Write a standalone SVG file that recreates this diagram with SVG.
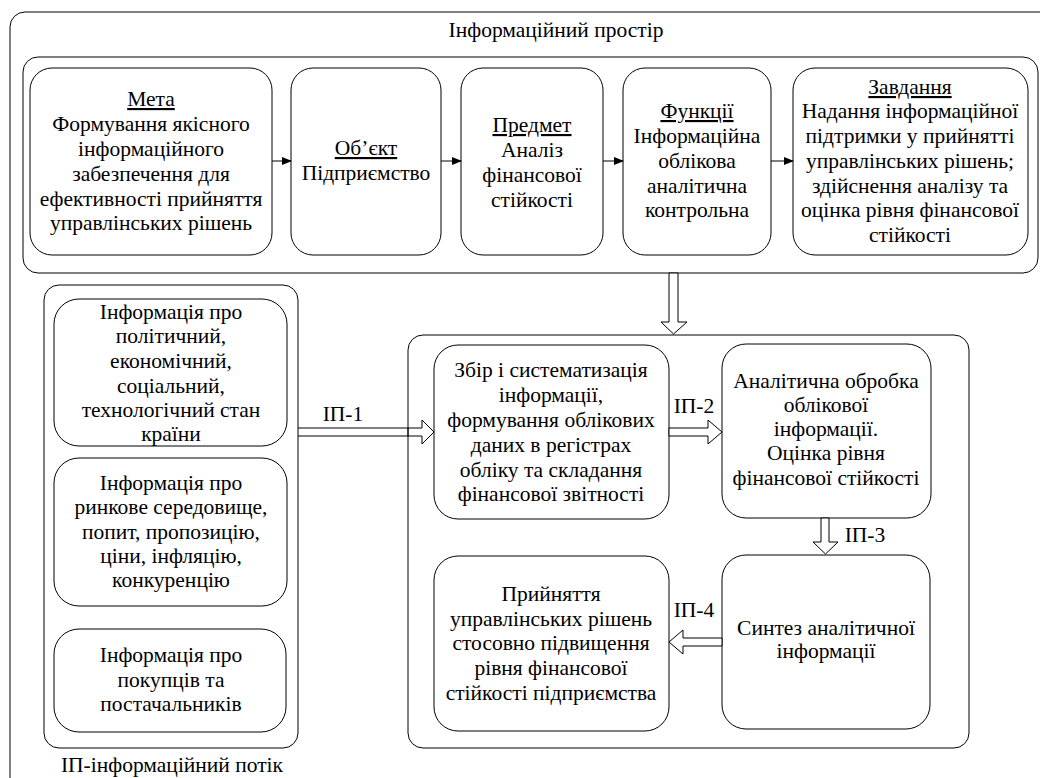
<svg xmlns="http://www.w3.org/2000/svg" width="1040" height="778" viewBox="0 0 1040 778">
<defs>
<style>
.box{fill:#fff;stroke:#000;stroke-width:1}
.frame{fill:none;stroke:#000;stroke-width:1}
.t{font-family:'Liberation Serif','Tinos','DejaVu Serif',serif;font-size:21.5px;text-anchor:middle;fill:#000}
.u{text-decoration:underline}
.hollow{fill:#fff;stroke:#000;stroke-width:1;stroke-linejoin:miter}
.thin{stroke:#000;stroke-width:1;fill:none}
</style>
<marker id="ah" markerWidth="10" markerHeight="8" refX="9" refY="4" orient="auto" markerUnits="userSpaceOnUse">
<path d="M0,0 L10,4 L0,8 Z" fill="#000"/>
</marker>
</defs>
<rect width="1040" height="778" fill="#fff"/>

<g id="info-space">
<rect class="frame" x="10" y="12" width="1060" height="800" rx="15"/>
<text class="t" x="556" y="37">Інформаційний простір</text>
</g>

<g id="top-container">
<rect class="box" x="23" y="57" width="1015" height="216" rx="15"/>
</g>

<g id="meta">
<rect class="box" x="30" y="68" width="242" height="187" rx="22"/>
<text class="t"><tspan class="u" x="151" y="106">Мета</tspan><tspan x="151" y="131">Формування якісного</tspan><tspan x="151" y="156">інформаційного</tspan><tspan x="151" y="181">забезпечення для</tspan><tspan x="151" y="206">ефективності прийняття</tspan><tspan x="151" y="230">управлінських рішень</tspan></text>
</g>
<g id="object">
<rect class="box" x="291" y="68" width="150" height="187" rx="22"/>
<text class="t"><tspan class="u" x="366" y="155">Об’єкт</tspan><tspan x="366" y="180">Підприємство</tspan></text>
</g>
<g id="subject">
<rect class="box" x="461" y="68" width="142" height="187" rx="22"/>
<text class="t"><tspan class="u" x="532" y="132">Предмет</tspan><tspan x="532" y="157">Аналіз</tspan><tspan x="532" y="182">фінансової</tspan><tspan x="532" y="207">стійкості</tspan></text>
</g>
<g id="functions">
<rect class="box" x="623" y="68" width="148" height="187" rx="22"/>
<text class="t"><tspan class="u" x="697" y="118">Функції</tspan><tspan x="697" y="143">Інформаційна</tspan><tspan x="697" y="168">облікова</tspan><tspan x="697" y="193">аналітична</tspan><tspan x="697" y="217">контрольна</tspan></text>
</g>
<g id="tasks">
<rect class="box" x="793" y="68" width="235" height="187" rx="22"/>
<text class="t"><tspan class="u" x="910" y="94">Завдання</tspan><tspan x="910" y="118">Надання інформаційної</tspan><tspan x="910" y="143">підтримки у прийнятті</tspan><tspan x="910" y="168">управлінських рішень;</tspan><tspan x="910" y="193">здійснення аналізу та</tspan><tspan x="910" y="217">оцінка рівня фінансової</tspan><tspan x="910" y="242">стійкості</tspan></text>
</g>

<g id="flow-container">
<rect class="box" x="44" y="285" width="254" height="463" rx="15"/>
<text class="t" x="172" y="772">ІП-інформаційний потік</text>
</g>
<g id="info-country">
<rect class="box" x="54" y="299" width="233" height="147" rx="25"/>
<text class="t"><tspan x="171" y="319">Інформація про</tspan><tspan x="171" y="343">політичний,</tspan><tspan x="171" y="368">економічний,</tspan><tspan x="171" y="393">соціальний,</tspan><tspan x="171" y="417">технологічний стан</tspan><tspan x="171" y="441">країни</tspan></text>
</g>
<g id="info-market">
<rect class="box" x="54" y="458" width="233" height="148" rx="25"/>
<text class="t"><tspan x="171" y="490">Інформація про</tspan><tspan x="171" y="514">ринкове середовище,</tspan><tspan x="171" y="539">попит, пропозицію,</tspan><tspan x="171" y="563">ціни, інфляцію,</tspan><tspan x="171" y="587">конкуренцію</tspan></text>
</g>
<g id="info-partners">
<rect class="box" x="54" y="629" width="232" height="103" rx="25"/>
<text class="t"><tspan x="171" y="662">Інформація про</tspan><tspan x="171" y="687">покупців та</tspan><tspan x="171" y="711">постачальників</tspan></text>
</g>

<g id="process-container">
<rect class="frame" x="408" y="335" width="561" height="413" rx="15"/>
</g>
<g id="collect">
<rect class="box" x="434" y="345" width="235" height="174" rx="24"/>
<text class="t"><tspan x="551" y="377">Збір і систематизація</tspan><tspan x="551" y="402">інформації,</tspan><tspan x="551" y="427">формування облікових</tspan><tspan x="551" y="452">даних в регістрах</tspan><tspan x="551" y="477">обліку та складання</tspan><tspan x="551" y="501">фінансової звітності</tspan></text>
</g>
<g id="analysis">
<rect class="box" x="722" y="344" width="209" height="174" rx="24"/>
<text class="t"><tspan x="826" y="388">Аналітична обробка</tspan><tspan x="826" y="412">облікової</tspan><tspan x="826" y="436">інформації.</tspan><tspan x="826" y="460">Оцінка рівня</tspan><tspan x="826" y="485">фінансової стійкості</tspan></text>
</g>
<g id="decision">
<rect class="box" x="434" y="556" width="235" height="175" rx="24"/>
<text class="t"><tspan x="551" y="601">Прийняття</tspan><tspan x="551" y="626">управлінських рішень</tspan><tspan x="551" y="650">стосовно підвищення</tspan><tspan x="551" y="675">рівня фінансової</tspan><tspan x="551" y="700">стійкості підприємства</tspan></text>
</g>
<g id="synthesis">
<rect class="box" x="722" y="555" width="208" height="174" rx="24"/>
<text class="t"><tspan x="826" y="635">Синтез аналітичної</tspan><tspan x="826" y="658">інформації</tspan></text>
</g>

<g id="connectors">
<line class="thin" x1="272" y1="161" x2="291" y2="161" marker-end="url(#ah)"/>
<line class="thin" x1="441" y1="161" x2="461" y2="161" marker-end="url(#ah)"/>
<line class="thin" x1="603" y1="161" x2="623" y2="161" marker-end="url(#ah)"/>
<line class="thin" x1="771" y1="161" x2="793" y2="161" marker-end="url(#ah)"/>
<polygon class="hollow" points="669,273 678,273 678,322 687,322 673.5,334 661,322 669,322"/>
<path class="thin" d="M298,428 L422,428 L422,420 L434,432 L422,444 L422,436 L298,436"/>
<line class="thin" x1="408" y1="428" x2="408" y2="436"/>
<text class="t" x="343" y="421">ІП-1</text>
<polygon class="hollow" points="669,428 708,428 708,420 722,432 708,444 708,436 669,436"/>
<text class="t" x="694" y="413">ІП-2</text>
<polygon class="hollow" points="821,518 829,518 829,542 838,542 825.5,554 813,542 821,542"/>
<text class="t" x="865" y="542">ІП-3</text>
<polygon class="hollow" points="722,638 683,638 683,630 669,642 683,654 683,646 722,646"/>
<text class="t" x="694" y="617">ІП-4</text>
</g>
</svg>
